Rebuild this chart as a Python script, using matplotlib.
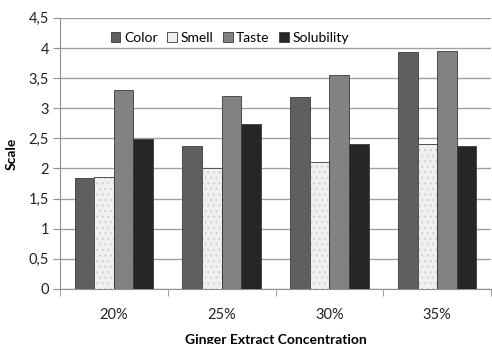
import matplotlib.pyplot as plt
from matplotlib.patches import Patch
import numpy as np

# podatki
kategorije = ['20%', '25%', '30%', '35%']
serije = ['Color', 'Smell', 'Taste', 'Solubility']
color_v = [1.85, 2.37, 3.19, 3.93]
smell_v = [1.86, 2.01, 2.11, 2.41]
taste_v = [3.30, 3.21, 3.55, 3.95]
solub_v = [2.49, 2.74, 2.41, 2.38]
yticks = [0, 0.5, 1, 1.5, 2, 2.5, 3, 3.5, 4, 4.5]
ytick_labels = ['0', '0,5', '1', '1,5', '2', '2,5', '3', '3,5', '4', '4,5']

plt.rcParams['font.family'] = ['Lato', 'DejaVu Sans']
plt.rcParams['hatch.linewidth'] = 0.8

fig = plt.figure(figsize=(4.92, 3.44), dpi=100)
ax = fig.add_axes([0.122, 0.160, 0.876, 0.788])

barve = ['#5f5f5f', '#f0f0f0', '#828282', '#262626']
vrednosti = [color_v, smell_v, taste_v, solub_v]
x = np.arange(len(kategorije))
w = 1 / 5.5
rocke = []
for i, (ime, vr, c) in enumerate(zip(serije, vrednosti, barve)):
    pos = x + (i - 1.5) * w
    if ime == 'Smell':
        # pikčast vzorec v svetli barvi, obroba posebej
        ax.bar(pos, vr, width=w, color=c, edgecolor='#d0d0d0', linewidth=0,
               hatch='...', zorder=3)
        ax.bar(pos, vr, width=w, fill=False, edgecolor='#3a3a3a', linewidth=0.6, zorder=4)
    else:
        ax.bar(pos, vr, width=w, color=c, edgecolor='#3a3a3a', linewidth=0.6, zorder=3)
    rocke.append(Patch(facecolor=c, edgecolor='#3a3a3a', linewidth=0.6, label=ime))

ax.set_xlim(-0.5, 3.5)
ax.set_ylim(0, 4.5)
ax.set_yticks(yticks)
ax.set_yticklabels(ytick_labels, fontsize=10.5, color='#222222')
ax.set_xticks(x)
ax.set_xticklabels(kategorije, fontsize=10.5, color='#222222')
ax.set_xticks(np.arange(-0.5, 3.6, 1), minor=True)
ax.tick_params(axis='x', which='major', length=0, pad=14)
ax.tick_params(axis='x', which='minor', length=5, color='#909090')
ax.tick_params(axis='y', length=5, color='#909090', pad=3)
ax.grid(axis='y', color='#a0a0a0', linewidth=1, zorder=0)
for s in ['top', 'right']:
    ax.spines[s].set_visible(False)
for s in ['left', 'bottom']:
    ax.spines[s].set_color('#909090')

ax.set_ylabel('Scale', fontsize=10, fontweight='bold', labelpad=8)
ax.set_xlabel('Ginger Extract Concentration', fontsize=10, fontweight='bold', labelpad=8)

leg = ax.legend(handles=rocke, loc='upper left', bbox_to_anchor=(0.095, 0.985), ncol=4,
                frameon=True, fontsize=10, handlelength=0.7, handleheight=0.7,
                handletextpad=0.25, columnspacing=0.7, borderpad=0.2, fancybox=False)
leg.get_frame().set_edgecolor('none')
leg.get_frame().set_facecolor('white')
leg.get_frame().set_alpha(1)

fig.savefig('out.png', dpi=100)
